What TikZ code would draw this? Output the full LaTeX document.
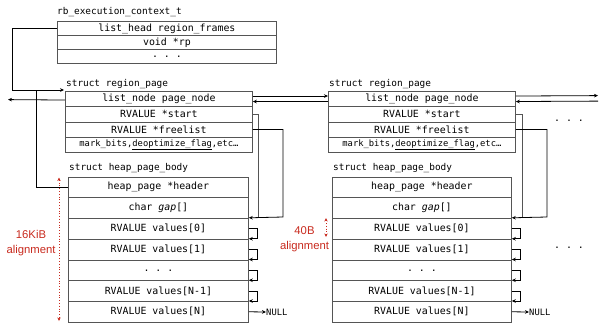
\documentclass[tikz,border=0pt]{standalone}
\usepackage{fontspec}
\setmainfont{Liberation Sans}
\setmonofont{DejaVu Sans Mono}
\usetikzlibrary{arrows.meta}
\definecolor{boxgray}{RGB}{85,85,85}
\definecolor{notered}{RGB}{200,42,30}
\begin{document}
\begin{tikzpicture}[x=1pt,y=-1pt,
  font=\ttfamily\fontsize{9.9}{11}\selectfont,
  cellbase/.style={draw=boxgray, line width=0.8pt, anchor=north west, inner sep=0pt},
  ctxcell/.style={cellbase, minimum width=219pt, minimum height=14pt},
  pagecell/.style={cellbase, minimum width=187pt, minimum height=15.25pt},
  bodyAcell/.style={cellbase, minimum width=180pt, minimum height=20.75pt},
  bodyBcell/.style={cellbase, minimum width=179pt, minimum height=20.75pt},
  title/.style={anchor=west, inner sep=0pt, font=\ttfamily\fontsize{9.4}{11}\selectfont},
  tip/.style={-{Stealth[length=4pt,width=3.6pt]}},
  wire/.style={line width=0.8pt, black},
  ptr/.style={wire, tip},
  dimline/.style={notered, dotted, line width=0.8pt,
    {Stealth[length=3.6pt,width=3.4pt]}-{Stealth[length=3.6pt,width=3.4pt]}},
  note/.style={notered, align=center, inner sep=0pt,
    font=\rmfamily\fontsize{11.3}{15}\selectfont},
  nullnode/.style={anchor=west, inner sep=0pt, font=\ttfamily\fontsize{8.8}{10}\selectfont},
  more/.style={inner sep=0pt}]
\useasboundingbox (0,0) rectangle (599,325);

% execution context
\node[title] (ctxT) at (57,12) {rb\_execution\_context\_t};
\node[ctxcell] (ctx1) at (57,21) {list\_head region\_frames};
\node[ctxcell] (ctx2) at (57,35) {void *rp};
\node[ctxcell] (ctx3) at (57,49) {. . .};

% first region page
\node[title] (rpAT) at (66,84) {struct region\_page};
\node[pagecell] (rpA1) at (65,91) {list\_node page\_node};
\node[pagecell] (rpA2) at (65,106.25) {RVALUE *start};
\node[pagecell] (rpA3) at (65,121.5) {RVALUE *freelist};
\node[pagecell, font=\ttfamily\fontsize{8.8}{10}\selectfont] (rpA4) at (65,136.75)
  {mark\_bits,\underline{deoptimize\_flag},etc…};

% second region page
\node[title] (rpBT) at (329,84) {struct region\_page};
\node[pagecell] (rpB1) at (328,91) {list\_node page\_node};
\node[pagecell] (rpB2) at (328,106.25) {RVALUE *start};
\node[pagecell] (rpB3) at (328,121.5) {RVALUE *freelist};
\node[pagecell, font=\ttfamily\fontsize{8.8}{10}\selectfont] (rpB4) at (328,136.75)
  {mark\_bits,\underline{deoptimize\_flag},etc…};

% first heap page body
\node[title] (hbAT) at (69,168) {struct heap\_page\_body};
\node[bodyAcell] (hbA1) at (68,176.5) {heap\_page *header};
\node[bodyAcell] (hbA2) at (68,197.25) {char \textit{gap}[]};
\node[bodyAcell] (hbA3) at (68,218) {RVALUE values[0]};
\node[bodyAcell] (hbA4) at (68,238.75) {RVALUE values[1]};
\node[bodyAcell] (hbA5) at (68,259.5) {. . .};
\node[bodyAcell] (hbA6) at (68,280.25) {RVALUE values[N-1]};
\node[bodyAcell] (hbA7) at (68,301) {RVALUE values[N]};

% second heap page body
\node[title] (hbBT) at (333,168) {struct heap\_page\_body};
\node[bodyBcell] (hbB1) at (332,176.5) {heap\_page *header};
\node[bodyBcell] (hbB2) at (332,197.25) {char \textit{gap}[]};
\node[bodyBcell] (hbB3) at (332,218) {RVALUE values[0]};
\node[bodyBcell] (hbB4) at (332,238.75) {RVALUE values[1]};
\node[bodyBcell] (hbB5) at (332,259.5) {. . .};
\node[bodyBcell] (hbB6) at (332,280.25) {RVALUE values[N-1]};
\node[bodyBcell] (hbB7) at (332,301) {RVALUE values[N]};

% continuation marks
\node[more] (moreP) at (569,121) {. . .};
\node[more] (moreH) at (569,248) {. . .};

% list head -> first region page
\coordinate (hdTurn) at (12,90);
\coordinate (hdBack) at (36,90);
\draw[ptr] (ctx1.west) -| (hdTurn) -- ([xshift=-1pt,yshift=1pt]rpA1.north west);
% header pointer back to its region page
\draw[wire] (hbA1.west) -| (hdBack);

% doubly linked page nodes
\coordinate (leftOut) at (8,99.6);
\coordinate (rightOut) at (598,95.6);
\coordinate (rightIn) at (598,101.1);
\draw[ptr] ([yshift=-1pt]rpA1.west) -- (leftOut);
\draw[ptr] ([yshift=3pt]rpA1.east) -- ([yshift=3pt]rpB1.west);
\draw[ptr] ([yshift=-2.5pt]rpB1.west) -- ([yshift=-2.5pt]rpA1.east);
\draw[ptr] ([yshift=3pt]rpB1.east) -- (rightOut);
\draw[ptr] (rightIn) -- ([yshift=-2.5pt]rpB1.east);

% start / freelist pointers
\coordinate (sA) at (258,217);
\coordinate (fA) at (283,217);
\coordinate (sB) at (522,217);
\coordinate (fB) at (547,217);
\draw[wire, draw=boxgray] (rpA2.east) -| (sA);
\draw[ptr] (rpA3.east) -| (fA) -- ([yshift=1pt]hbA2.south east);
\draw[wire, draw=boxgray] (rpB2.east) -| (sB);
\draw[ptr] (rpB3.east) -| (fB) -- ([yshift=1pt]hbB2.south east);

% free slot chains
\foreach \r in {3,4,5,6}{
  \draw[ptr] (hbA\r.east) -- ++(9,0) |- ([yshift=0.8pt]hbA\r.south east);
  \draw[ptr] (hbB\r.east) -- ++(9,0) |- ([yshift=0.8pt]hbB\r.south east);
}
\node[nullnode] (nullA) at (266,312) {NULL};
\node[nullnode] (nullB) at (529,312) {NULL};
\draw[ptr] (hbA7.east) -- (nullA.west);
\draw[ptr] (hbB7.east) -- (nullB.west);

% alignment notes
\coordinate (kTop) at (59,177.5);
\coordinate (kBot) at (59,321);
\draw[dimline] (kTop) -- (kBot);
\node[note] (kNote) at (31,243) {16KiB\\alignment};
\coordinate (bTop) at (326,218);
\coordinate (bBot) at (326,237);
\draw[dimline] (bTop) -- (bBot);
\node[note] (bNote) at (304.5,239) {40B\\alignment};
\end{tikzpicture}
\end{document}
